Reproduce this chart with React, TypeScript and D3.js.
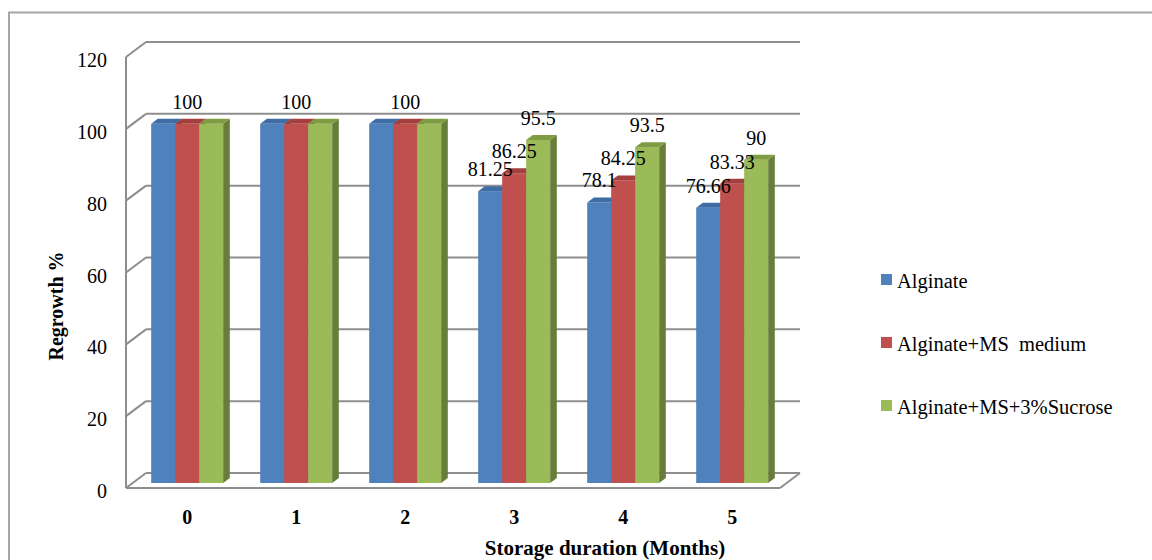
import React from "react";
import * as d3 from "d3";

const categories = ["0", "1", "2", "3", "4", "5"];
const seriesNames = ["Alginate", "Alginate+MS  medium", "Alginate+MS+3%Sucrose"];
const alginate = [100, 100, 100, 81.25, 78.1, 76.66];
const alginateMS = [100, 100, 100, 86.25, 84.25, 83.33];
const alginateMSSucrose = [100, 100, 100, 95.5, 93.5, 90];
const yTicks = [0, 20, 40, 60, 80, 100, 120];

const W = 1152;
const H = 560;
const FONT = "Liberation Serif";

const colors = [
  { front: "#4f81bd", top: "#3e6da5", side: "#385d8a" },
  { front: "#c0504d", top: "#a33f3c", side: "#8c3836" },
  { front: "#9bbb59", top: "#7f9c43", side: "#677d3a" },
];

export default function App() {
  const series = [alginate, alginateMS, alginateMSSucrose];
  const x0 = 126, x1 = 780;
  const depthX = 20, depthY = -15;
  const barDX = depthX / 3, barDY = depthY / 3;

  const y = d3.scaleLinear().domain([0, 120]).range([488, 57]);
  const xBand = d3
    .scaleBand<string>()
    .domain(categories)
    .range([x0, x1])
    .paddingInner(0.34)
    .paddingOuter(0.17);
  const xInner = d3
    .scaleBand<number>()
    .domain(series.map((_, i) => i))
    .range([0, xBand.bandwidth()]);

  const grid = "#8e8e8e";

  return (
    <svg
      width={W}
      height={H}
      style={{ position: "absolute", left: 0, top: 0, display: "block", background: "#fff" }}
    >
      {/* outer frame */}
      <polyline points={`9,${H} 9,12.5 ${W},12.5`} fill="none" stroke="#a6a6a6" strokeWidth={2} />

      {/* gridlines on back & side walls */}
      {yTicks.map((t) => {
        const yf = y(t);
        return (
          <g key={t}>
            <line x1={x0} y1={yf} x2={x0 + depthX} y2={yf + depthY} stroke={grid} strokeWidth={2} />
            <line x1={x0 + depthX} y1={yf + depthY} x2={x1 + depthX} y2={yf + depthY} stroke={grid} strokeWidth={2} />
          </g>
        );
      })}
      {/* floor */}
      <line x1={x0} y1={y(0)} x2={x1} y2={y(0)} stroke={grid} strokeWidth={2} />
      <line x1={x1} y1={y(0)} x2={x1 + depthX} y2={y(0) + depthY} stroke={grid} strokeWidth={2} />
      {/* front vertical axis */}
      <line x1={x0} y1={y(0)} x2={x0} y2={y(120)} stroke={grid} strokeWidth={2} />

      {/* y tick labels */}
      {yTicks.map((t) => (
        <text key={t} x={107} y={y(t) + 10} textAnchor="end" fontSize={20} fontFamily={FONT} fill="#000">
          {t}
        </text>
      ))}

      {/* bars */}
      {categories.map((c, ci) =>
        series.map((s, si) => {
          const v = s[ci];
          const bx = (xBand(c) as number) + (xInner(si) as number) + barDX;
          const bw = xInner.bandwidth();
          const yb = y(0) + barDY;
          const yt = y(v) + barDY;
          const col = colors[si];
          return (
            <g key={`${ci}-${si}`}>
              <polygon
                points={`${bx + bw},${yt} ${bx + bw + barDX},${yt + barDY} ${bx + bw + barDX},${yb + barDY} ${bx + bw},${yb}`}
                fill={col.side}
              />
              <rect x={bx} y={yt} width={bw} height={yb - yt} fill={col.front} />
              <polygon
                points={`${bx},${yt} ${bx + barDX},${yt + barDY} ${bx + bw + barDX},${yt + barDY} ${bx + bw},${yt}`}
                fill={col.top}
              />
            </g>
          );
        })
      )}

      {/* data labels */}
      {categories.map((c, ci) => {
        const vals = series.map((s) => s[ci]);
        const allSame = vals.every((v) => v === vals[0]);
        return series.map((s, si) => {
          if (allSame && si !== 1) return null;
          const v = s[ci];
          const cx = (xBand(c) as number) + (xInner(si) as number) + barDX + xInner.bandwidth() / 2;
          return (
            <text key={`l-${ci}-${si}`} x={cx} y={y(v) - 20} textAnchor="middle" fontSize={20} fontFamily={FONT} fill="#000">
              {String(v)}
            </text>
          );
        });
      })}

      {/* x tick labels */}
      {categories.map((c) => (
        <text
          key={`x-${c}`}
          x={(xBand(c) as number) + barDX + xBand.bandwidth() / 2}
          y={524}
          textAnchor="middle"
          fontSize={20}
          fontWeight="bold"
          fontFamily={FONT}
          fill="#000"
        >
          {c}
        </text>
      ))}

      {/* axis titles */}
      <text
        transform={`translate(63,306) rotate(-90)`}
        textAnchor="middle"
        fontSize={20}
        fontWeight="bold"
        fontFamily={FONT}
        fill="#000"
      >
        Regrowth %
      </text>
      <text x={605} y={555} textAnchor="middle" fontSize={21} fontWeight="bold" fontFamily={FONT} fill="#000">
        Storage duration (Months)
      </text>

      {/* legend */}
      {seriesNames.map((n, i) => {
        const by = 288 + i * 63;
        return (
          <g key={n}>
            <rect x={881} y={by - 14} width={11} height={11} fill={colors[i].front} />
            <text x={897} y={by} fontSize={20.5} fontFamily={FONT} fill="#000" style={{ whiteSpace: "pre" }}>
              {n}
            </text>
          </g>
        );
      })}
    </svg>
  );
}
